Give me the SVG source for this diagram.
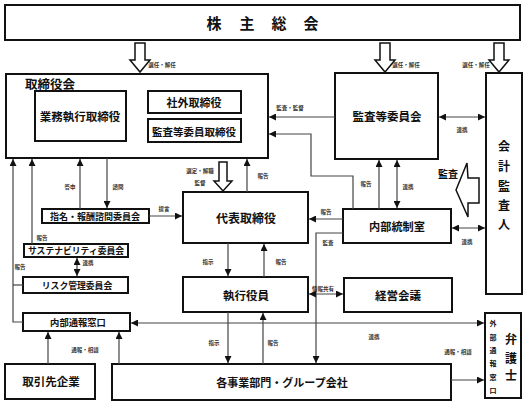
<svg xmlns="http://www.w3.org/2000/svg" width="527" height="405" viewBox="0 0 527 405">
<style>
.box{fill:#fff;stroke:#111;stroke-width:2}
.t{font-family:"Noto Sans CJK JP","Noto Sans CJK SC",sans-serif;font-weight:700;text-anchor:middle;dominant-baseline:central;fill:#111}
.s{font-family:"Noto Sans CJK JP","Noto Sans CJK SC",sans-serif;font-weight:700;font-size:5.5px;text-anchor:middle;dominant-baseline:central;fill:#333}
.c{fill:none;stroke:#444;stroke-width:1.2}
.a{marker-end:url(#ah)}
.b{marker-start:url(#ah);marker-end:url(#ah)}
.h{fill:#fff;stroke:#111;stroke-width:1.5}
</style>
<defs>
<marker id="ah" viewBox="0 0 10 10" refX="10" refY="5" markerWidth="7" markerHeight="7" markerUnits="userSpaceOnUse" orient="auto-start-reverse"><path d="M0,0 L10,5 L0,10 z" fill="#111"/></marker>
</defs>
<rect width="527" height="405" fill="#fff"/>

<g id="shareholders">
<rect class="box" x="5" y="5" width="515" height="35"/>
<text class="t" font-size="15" x="214" y="22">株</text>
<text class="t" font-size="15" x="247" y="22">主</text>
<text class="t" font-size="15" x="279" y="22">総</text>
<text class="t" font-size="15" x="311" y="22">会</text>
</g>

<g id="board">
<rect class="box" x="6" y="74" width="262" height="84"/>
<text class="t" font-size="12.5" x="50" y="83">取締役会</text>
</g>
<g id="exec-directors">
<rect class="box" x="35" y="91" width="91" height="50"/>
<text class="t" font-size="11.5" x="80" y="116">業務執行取締役</text>
</g>
<g id="outside-directors">
<rect class="box" x="148" y="91" width="93" height="22"/>
<text class="t" font-size="11" x="194" y="102">社外取締役</text>
</g>
<g id="audit-directors">
<rect class="box" x="148" y="119" width="93" height="23"/>
<text class="t" font-size="10.5" x="194" y="131">監査等委員取締役</text>
</g>

<g id="audit-committee">
<rect class="box" x="335" y="73" width="103" height="86"/>
<text class="t" font-size="11.5" x="387" y="116">監査等委員会</text>
</g>

<g id="accounting-auditor">
<rect class="box" x="486" y="73" width="36" height="221"/>
<text class="t" font-size="12" x="504" y="145">会</text>
<text class="t" font-size="12" x="504" y="165">計</text>
<text class="t" font-size="12" x="504" y="185">監</text>
<text class="t" font-size="12" x="504" y="204">査</text>
<text class="t" font-size="12" x="504" y="223">人</text>
</g>

<g id="nomination">
<rect class="box" x="42" y="209" width="107" height="14"/>
<text class="t" font-size="9" x="95" y="216">指名・報酬諮問委員会</text>
</g>
<g id="sustainability">
<rect class="box" x="24" y="244" width="104" height="13"/>
<text class="t" font-size="8.8" x="76" y="250.5">サステナビリティ委員会</text>
</g>
<g id="risk">
<rect class="box" x="23" y="277" width="105" height="16"/>
<text class="t" font-size="8.8" x="77" y="285">リスク管理委員会</text>
</g>
<g id="whistle">
<rect class="box" x="23" y="313" width="107" height="18"/>
<text class="t" font-size="9.3" x="78" y="322">内部通報窓口</text>
</g>

<g id="ceo">
<rect class="box" x="183" y="192" width="125" height="51"/>
<text class="t" font-size="12" x="246" y="217">代表取締役</text>
</g>
<g id="internal-control">
<rect class="box" x="343" y="209" width="108" height="34"/>
<text class="t" font-size="11.2" x="397" y="226">内部統制室</text>
</g>
<g id="officers">
<rect class="box" x="183" y="277" width="125" height="35"/>
<text class="t" font-size="11.5" x="246" y="295">執行役員</text>
</g>
<g id="mgmt-meeting">
<rect class="box" x="344" y="278" width="108" height="34"/>
<text class="t" font-size="11.5" x="398" y="295">経営会議</text>
</g>
<g id="suppliers">
<rect class="box" x="5" y="364" width="90" height="35"/>
<text class="t" font-size="11.5" x="51" y="381">取引先企業</text>
</g>
<g id="divisions">
<rect class="box" x="112" y="364" width="339" height="36"/>
<text class="t" font-size="11" x="282" y="382">各事業部門・グループ会社</text>
</g>
<g id="lawyer">
<rect class="box" x="485" y="313" width="36" height="85"/>
<text class="t" font-size="7" x="493" y="323">外</text>
<text class="t" font-size="7" x="493" y="337">部</text>
<text class="t" font-size="7" x="493" y="350">通</text>
<text class="t" font-size="7" x="493" y="363">報</text>
<text class="t" font-size="7" x="493" y="377">窓</text>
<text class="t" font-size="7" x="493" y="390">口</text>
<text class="t" font-size="12" x="511" y="338">弁</text>
<text class="t" font-size="12" x="511" y="357">護</text>
<text class="t" font-size="12" x="511" y="374">士</text>
</g>

<g id="connectors">
<!-- hollow arrows -->
<path class="h" d="M135,43 H145 V60 H150 L140,72 L130,60 H135 Z"/>
<path class="h" d="M380,43 H390 V60 H395 L385,72 L375,60 H380 Z"/>
<path class="h" d="M494,43 H504 V60 H509 L499,72 L489,60 H494 Z"/>
<path class="h" d="M219,162 H227 V181 H232 L223,191 L214,181 H219 Z"/>
<path class="h" d="M456,190 L467,163 L468,178 H479 V203 H468 V217 Z"/>

<!-- audit committee to board -->
<path class="c a" d="M335,117 H269"/>
<path class="c a" d="M353,209 V176 H311 V134 H269"/>
<path class="c a" d="M379,209 V160"/>
<path class="c b" d="M397,160 V208"/>
<path class="c b" d="M439,117 H485"/>
<path class="c b" d="M452,228 H485"/>

<!-- ceo -->
<path class="c a" d="M247,192 V159"/>
<path class="c a" d="M343,219 H309"/>
<path class="c a" d="M343,233 H316 V363"/>
<path class="c a" d="M228,243 V276"/>
<path class="c a" d="M264,277 V244"/>
<path class="c b" d="M309,294 H343"/>
<path class="c a" d="M228,312 V363"/>
<path class="c a" d="M263,364 V313"/>

<!-- left committees -->
<path class="c a" d="M80,209 V159"/>
<path class="c a" d="M107,158 V208"/>
<path class="c a" d="M149,216 H182"/>
<path class="c a" d="M32,244 V159"/>
<path class="c b" d="M77,258 V276"/>
<path class="c a" d="M23,322 H13 V159"/>
<path class="c" d="M13,285 H23"/>

<!-- whistleblowing -->
<path class="c b" d="M131,323 H484"/>
<path class="c a" d="M48,364 V332"/>
<path class="c a" d="M119,364 V332"/>
<path class="c a" d="M451,380 H484"/>

<!-- labels -->
<text class="s" x="162" y="65">選任・解任</text>
<text class="s" x="406" y="65">選任・解任</text>
<text class="s" x="476" y="65">選任・解任</text>
<text class="s" x="290" y="108">監査・監督</text>
<text class="s" x="462" y="130">連携</text>
<text class="t" font-size="10" x="448" y="173">監査</text>
<text class="s" x="366" y="184">報告</text>
<text class="s" x="408" y="187">連携</text>
<text class="s" x="263" y="176">報告</text>
<text class="s" x="200" y="171">選定・解職</text>
<text class="s" x="200" y="183">監督</text>
<text class="s" x="326" y="212">報告</text>
<text class="s" x="328" y="243">監査</text>
<text class="s" x="467" y="242">連携</text>
<text class="s" x="70" y="187">答申</text>
<text class="s" x="118" y="187">諮問</text>
<text class="s" x="164" y="209">提言</text>
<text class="s" x="42" y="238">報告</text>
<text class="s" x="88" y="263">連携</text>
<text class="s" x="20" y="267">報告</text>
<text class="s" x="208" y="262">指示</text>
<text class="s" x="281" y="262">報告</text>
<text class="s" x="323" y="289">情報共有</text>
<text class="s" x="214" y="343">指示</text>
<text class="s" x="273" y="343">報告</text>
<text class="s" x="374" y="337">連携</text>
<text class="s" x="85" y="350">通報・相談</text>
<text class="s" x="458" y="352">通報・相談</text>
</g>
</svg>
